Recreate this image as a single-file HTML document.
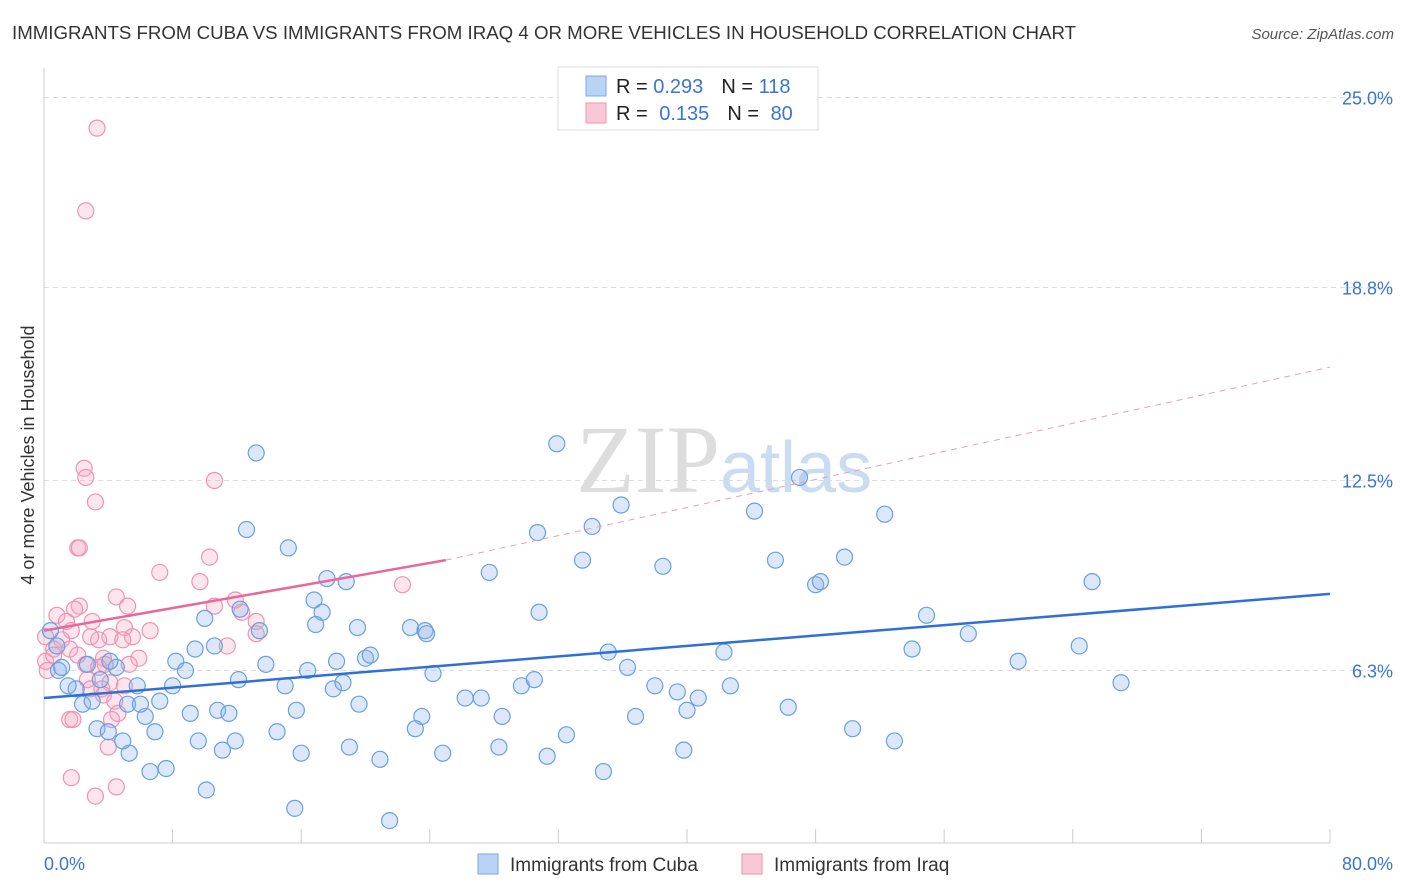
<!DOCTYPE html>
<html><head><meta charset="utf-8">
<style>
body{margin:0;background:#fff;font-family:"Liberation Sans",sans-serif;}
svg{display:block}
</style></head><body>
<svg id="chart" width="1406" height="892">
<text x="12" y="39" font-size="18" fill="#333" textLength="1064" lengthAdjust="spacingAndGlyphs">IMMIGRANTS FROM CUBA VS IMMIGRANTS FROM IRAQ 4 OR MORE VEHICLES IN HOUSEHOLD CORRELATION CHART</text>
<text x="1394" y="39" font-size="15" fill="#555" text-anchor="end" font-style="italic">Source: ZipAtlas.com</text>
<text x="720" y="492" font-size="96" fill="#ddd" text-anchor="end" font-family="Liberation Serif">ZIP</text>
<text x="720" y="492" font-size="72" fill="#c9dcf2">atlas</text>
<g id="grid"></g>
<g id="axes"></g>
<g id="marks"></g>
<text transform="translate(34,455) rotate(-90)" font-size="18" fill="#333" text-anchor="middle">4 or more Vehicles in Household</text>
<g>
<rect x="558" y="67" width="260" height="63" fill="#fff" stroke="#ddd"/>
<rect x="586" y="76" width="20" height="20" fill="#b9d3f5" stroke="#7aa7e6"/>
<rect x="586" y="103" width="20" height="20" fill="#f9c8d7" stroke="#ee94b2"/>
<text x="616" y="93" font-size="20" fill="#222">R = <tspan fill="#3a75d0">0.293</tspan><tspan dx="18">N = </tspan><tspan fill="#3a75d0">118</tspan></text>
<text x="616" y="120" font-size="20" fill="#222">R = <tspan fill="#3a75d0" dx="6">0.135</tspan><tspan dx="18">N = </tspan><tspan fill="#3a75d0" dx="6">80</tspan></text>
</g>
<g>
<rect x="478" y="854" width="20" height="20" fill="#b9d3f5" stroke="#7aa7e6"/>
<text x="510" y="871" font-size="19" fill="#333">Immigrants from Cuba</text>
<rect x="742" y="854" width="20" height="20" fill="#f9c8d7" stroke="#ee94b2"/>
<text x="774" y="871" font-size="19" fill="#333">Immigrants from Iraq</text>
</g>
</svg>
<script>
const yTicks=[6.3,12.5,18.8,25.0];
const xTickCount=10;
const cubaX=[13.2,31.9,47.0,12.6,15.2,30.7,34.1,35.9,44.2,52.3,27.7,33.5,38.5,45.5,49.8,48.0,48.3,65.2,17.6,18.8,16.8,17.3,12.2,10.0,30.8,16.9,19.5,13.4,22.8,23.7,23.8,54.9,57.5,64.4,54.0,35.1,42.3,60.6,67.0,9.4,10.6,8.2,8.8,13.8,16.4,18.2,20.0,20.3,24.2,12.1,15.0,18.0,18.6,29.7,30.5,36.3,38.0,39.4,40.7,40.0,42.7,26.2,27.2,28.5,19.6,15.7,9.1,10.8,11.5,23.5,23.1,36.8,46.3,50.3,52.9,14.5,19.0,16.0,9.6,11.1,11.9,20.9,24.8,28.3,31.3,32.5,39.8,34.8,10.1,15.6,21.5,6.6,7.6,5.3,4.9,6.9,6.3,3.3,4.0,2.4,3.0,5.2,6.0,8.0,7.2,2.0,1.5,3.5,4.5,4.1,5.8,0.9,1.1,0.4,0.8,2.7];
const cubaY=[13.4,13.7,12.6,10.9,10.3,10.8,11.0,11.7,11.5,11.4,9.5,9.9,9.7,9.9,10.0,9.1,9.2,9.2,9.3,9.2,8.6,8.2,8.3,8.0,8.2,7.8,7.7,7.6,7.7,7.6,7.5,8.1,7.5,7.1,7.0,6.9,6.9,6.6,5.9,7.0,7.1,6.6,6.3,6.5,6.3,6.6,6.7,6.8,6.2,6.0,5.8,5.7,5.9,5.8,6.0,6.4,5.8,5.6,5.4,5.0,5.8,5.4,5.4,4.8,5.2,5.0,4.9,5.0,4.9,4.8,4.4,4.8,5.1,4.4,4.0,4.3,3.8,3.6,4.0,3.7,4.0,3.4,3.6,3.8,3.5,4.2,3.7,3.0,2.4,1.8,1.4,3.0,3.1,3.6,4.0,4.3,4.8,4.4,4.3,5.2,5.3,5.2,5.2,5.8,5.3,5.7,5.8,6.0,6.4,6.6,5.8,6.3,6.4,7.6,7.1,6.5];
const iraqX=[3.3,2.6,2.5,2.6,3.2,10.6,2.1,2.2,10.3,7.2,9.7,22.3,4.5,11.9,5.2,10.6,12.3,2.2,1.9,0.8,1.4,3.0,13.2,13.2,5.0,5.5,6.6,1.7,1.1,3.4,2.9,4.1,4.9,11.4,0.6,1.6,2.1,3.7,5.9,0.1,0.2,2.6,3.4,3.8,5.3,2.7,4.1,2.9,5.0,3.7,4.4,3.6,1.6,1.8,4.6,4.2,4.0,1.7,3.2,4.5,0.1,0.6];
const iraqY=[24.0,21.3,12.9,12.6,11.8,12.5,10.3,10.3,10.0,9.5,9.2,9.1,8.7,8.6,8.4,8.4,8.2,8.4,8.3,8.1,7.9,7.9,7.9,7.5,7.7,7.4,7.6,7.6,7.3,7.3,7.4,7.4,7.3,7.1,7.0,7.0,6.8,6.7,6.7,6.6,6.3,6.5,6.4,6.5,6.5,6.0,5.9,5.7,5.8,5.5,5.3,5.7,4.7,4.7,4.9,4.7,3.8,2.8,2.2,2.5,7.4,6.8];
const cubaTrend=[[0,5.4],[80,8.8]];
const iraqTrendSolid=[[0,7.6],[25,9.9]];
const iraqTrendDash=[[25,9.9],[80,16.2]];

const X0=44,X1=1330,Y0=863.5,YPX=191.5/6.25;
const sx=v=>X0+(v/80)*(X1-X0);
const sy=v=>Y0-v*YPX;
const NS='http://www.w3.org/2000/svg';
function mk(t,a,p){const e=document.createElementNS(NS,t);for(const k in a)e.setAttribute(k,a[k]);p.appendChild(e);return e;}
const grid=document.getElementById('grid'),axes=document.getElementById('axes'),marks=document.getElementById('marks');
yTicks.forEach(t=>{
  const l=mk('line',{x1:X0,x2:1394,y1:sy(t),y2:sy(t),stroke:'#ddd','stroke-dasharray':'5,4'},grid);
  
  
  const tx=mk('text',{x:1393,y:sy(t)+7,'font-size':18,fill:'#3a75d0','text-anchor':'end'},axes);
  tx.textContent=t.toFixed(1)+'%';
  
  
});
const ax=mk('line',{x1:X0,x2:X0,y1:68,y2:843,stroke:'#ccc'},axes);


const bx=mk('line',{x1:X0,x2:X1,y1:843,y2:843,stroke:'#ccc'},axes);


for(let i=0;i<=xTickCount;i++){
  const v=80*i/xTickCount;
  const t=mk('line',{x1:sx(v),x2:sx(v),y1:829,y2:843,stroke:'#ccc'},axes);
  
  
}
const xl=mk('text',{x:44,y:870,'font-size':18,fill:'#3a75d0'},axes);xl.textContent='0.0%';


const xr=mk('text',{x:1393,y:870,'font-size':18,fill:'#3a75d0','text-anchor':'end'},axes);xr.textContent='80.0%';


function pts(xs,ys,fill,stroke,name){
  xs.forEach((x,i)=>{
    const c=mk('circle',{cx:sx(x),cy:sy(ys[i]),r:8,fill:fill,stroke:stroke,'stroke-width':1.2},marks);
    
    
  });
}
pts(iraqX,iraqY,'rgba(246,170,195,0.3)','#ee94b2','iraq-point');
pts(cubaX,cubaY,'rgba(140,180,235,0.3)','#6a9fe0','cuba-point');
function line(p,col,w,dash,name){
  const l=mk('line',{x1:sx(p[0][0]),y1:sy(p[0][1]),x2:sx(p[1][0]),y2:sy(p[1][1]),stroke:col,'stroke-width':w},marks);
  if(dash)l.setAttribute('stroke-dasharray',dash);
  
  
}
line(cubaTrend,'#2f6fd6',2.5,null,'cuba-trendline');
line(iraqTrendSolid,'#e8689a',2.5,null,'iraq-trendline');
line(iraqTrendDash,'#eaa0bb',1,'6,5','iraq-trendline-extension');
</script>
</body></html>
